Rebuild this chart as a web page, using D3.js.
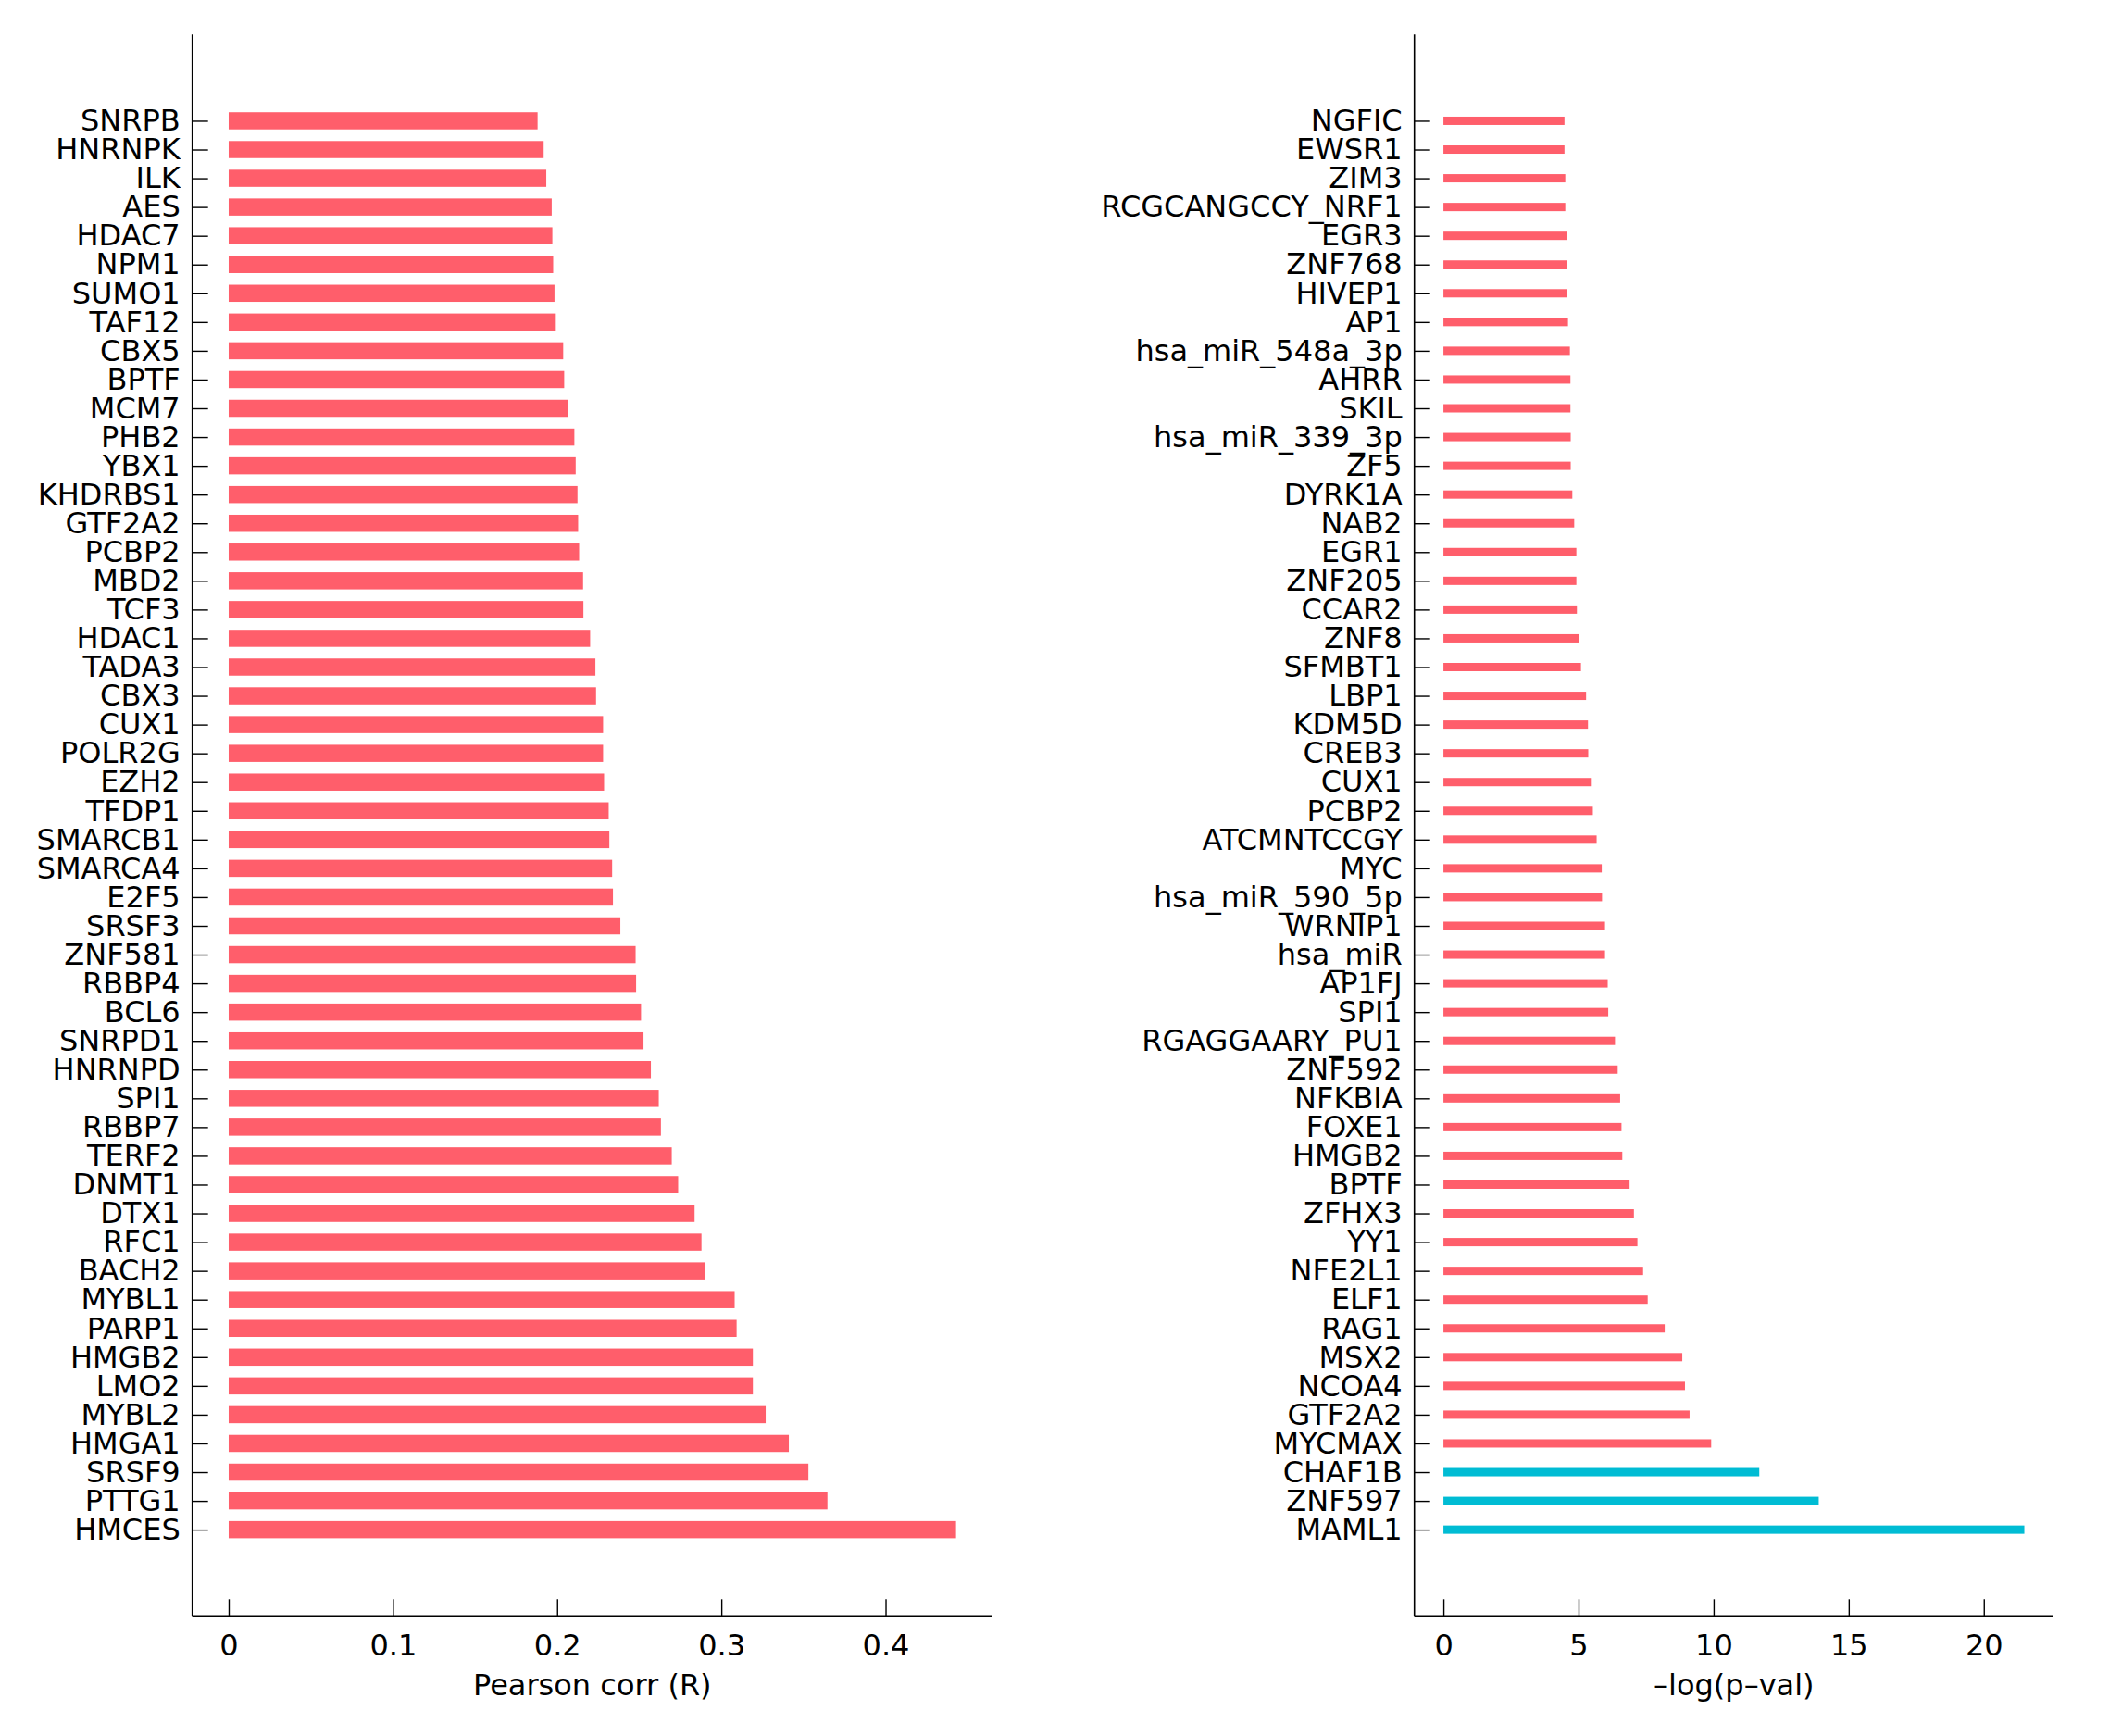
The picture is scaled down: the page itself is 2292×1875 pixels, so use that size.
<!DOCTYPE html>
<html>
<head>
<meta charset="utf-8">
<script src="https://cdn.jsdelivr.net/npm/d3@7"></script>
<style>
  body { margin: 0; background: #fff; }
  text { font-family: "DejaVu Sans", sans-serif; }
</style>
</head>
<body>
<svg id="chart" width="2292" height="1875"></svg>
<script>
// left panel: correlation of genes
const corrGenes = ["SNRPB","HNRNPK","ILK","AES","HDAC7","NPM1","SUMO1","TAF12","CBX5","BPTF",
  "MCM7","PHB2","YBX1","KHDRBS1","GTF2A2","PCBP2","MBD2","TCF3","HDAC1","TADA3",
  "CBX3","CUX1","POLR2G","EZH2","TFDP1","SMARCB1","SMARCA4","E2F5","SRSF3","ZNF581",
  "RBBP4","BCL6","SNRPD1","HNRNPD","SPI1","RBBP7","TERF2","DNMT1","DTX1","RFC1",
  "BACH2","MYBL1","PARP1","HMGB2","LMO2","MYBL2","HMGA1","SRSF9","PTTG1","HMCES"];
const corrValues = [0.1881,0.1918,0.1934,0.1967,0.1971,0.1976,0.1984,0.1992,0.2037,0.2043,
  0.2066,0.2105,0.2113,0.2124,0.2128,0.2134,0.2158,0.2160,0.2201,0.2233,
  0.2237,0.2280,0.2280,0.2286,0.2314,0.2318,0.2335,0.2340,0.2385,0.2478,
  0.2481,0.2511,0.2526,0.2571,0.2619,0.2632,0.2698,0.2737,0.2837,0.2879,
  0.2899,0.3081,0.3093,0.3192,0.3192,0.3270,0.3411,0.3530,0.3646,0.4429];
const corrTicks = [0, 0.1, 0.2, 0.3, 0.4];

// right panel: enrichment p-values
const tfNames = ["NGFIC","EWSR1","ZIM3","RCGCANGCCY_NRF1","EGR3","ZNF768","HIVEP1","AP1","hsa_miR_548a_3p","AHRR",
  "SKIL","hsa_miR_339_3p","ZF5","DYRK1A","NAB2","EGR1","ZNF205","CCAR2","ZNF8","SFMBT1",
  "LBP1","KDM5D","CREB3","CUX1","PCBP2","ATCMNTCCGY","MYC","hsa_miR_590_5p","WRNIP1","hsa_miR",
  "AP1FJ","SPI1","RGAGGAARY_PU1","ZNF592","NFKBIA","FOXE1","HMGB2","BPTF","ZFHX3","YY1",
  "NFE2L1","ELF1","RAG1","MSX2","NCOA4","GTF2A2","MYCMAX","CHAF1B","ZNF597","MAML1"];
const tfValues = [4.48,4.48,4.51,4.51,4.56,4.56,4.58,4.61,4.68,4.70,
  4.70,4.71,4.71,4.77,4.84,4.92,4.92,4.94,5.00,5.09,
  5.28,5.35,5.36,5.49,5.53,5.67,5.86,5.87,5.98,5.98,
  6.08,6.10,6.35,6.45,6.54,6.59,6.62,6.89,7.05,7.18,
  7.39,7.56,8.19,8.84,8.94,9.11,9.91,11.69,13.89,21.50];
const tfHighlight = ["CHAF1B","ZNF597","MAML1"];
const tfTicks = [0, 5, 10, 15, 20];

const red = "#ff5e6b", cyan = "#00bcd4";
const svg = d3.select("#chart");
const yTop = 37.3, yBottom = 1745.3;

function drawPanel(names, values, ticks, x0, x1, barH, colorOf, label){
  var g = svg.append("g");
  var maxV = d3.max(values);
  var x = d3.scaleLinear().domain([-0.05*maxV, 1.05*maxV]).range([x0, x1]);
  var y = d3.scalePoint().domain(names).range([yTop, yBottom]).padding(3);

  g.selectAll("rect.bar").data(names).enter().append("rect")
    .attr("class","bar")
    .attr("x", x(0))
    .attr("y", d => y(d) - barH/2)
    .attr("width", (d,i) => x(values[i]) - x(0))
    .attr("height", barH)
    .attr("fill", colorOf);

  var xa = g.append("g").attr("transform","translate(0,"+yBottom+")")
    .call(d3.axisBottom(x).tickValues(ticks).tickFormat(d => String(d))
      .tickSizeInner(-18).tickSizeOuter(0).tickPadding(20));
  var ya = g.append("g").attr("transform","translate("+x0+",0)")
    .call(d3.axisLeft(y).tickSizeInner(-17).tickSizeOuter(0).tickPadding(13));

  [xa, ya].forEach(a => {
    a.select(".domain").attr("stroke","#000").attr("stroke-width",1.6);
    a.selectAll(".tick line").attr("stroke","#000").attr("stroke-width",1.4);
    a.selectAll("text").attr("font-size",32).attr("fill","#000")
      .attr("font-family","DejaVu Sans");
  });
  // domain paths drawn as plain lines so there are no end caps
  xa.select(".domain").attr("d","M"+x0+",0H"+x1);
  ya.select(".domain").attr("d","M0,"+yTop+"V"+yBottom);

  g.append("text")
    .attr("x",(x0+x1)/2).attr("y",1831)
    .attr("text-anchor","middle").attr("font-size",32)
    .text(label);
}

drawPanel(corrGenes, corrValues, corrTicks, 207.7, 1071.9, 18.5, () => red, "Pearson corr (R)");
drawPanel(tfNames, tfValues, tfTicks, 1527.7, 2217.9, 9,
  d => tfHighlight.indexOf(d) >= 0 ? cyan : red, "–log(p–val)");
</script>
</body>
</html>
